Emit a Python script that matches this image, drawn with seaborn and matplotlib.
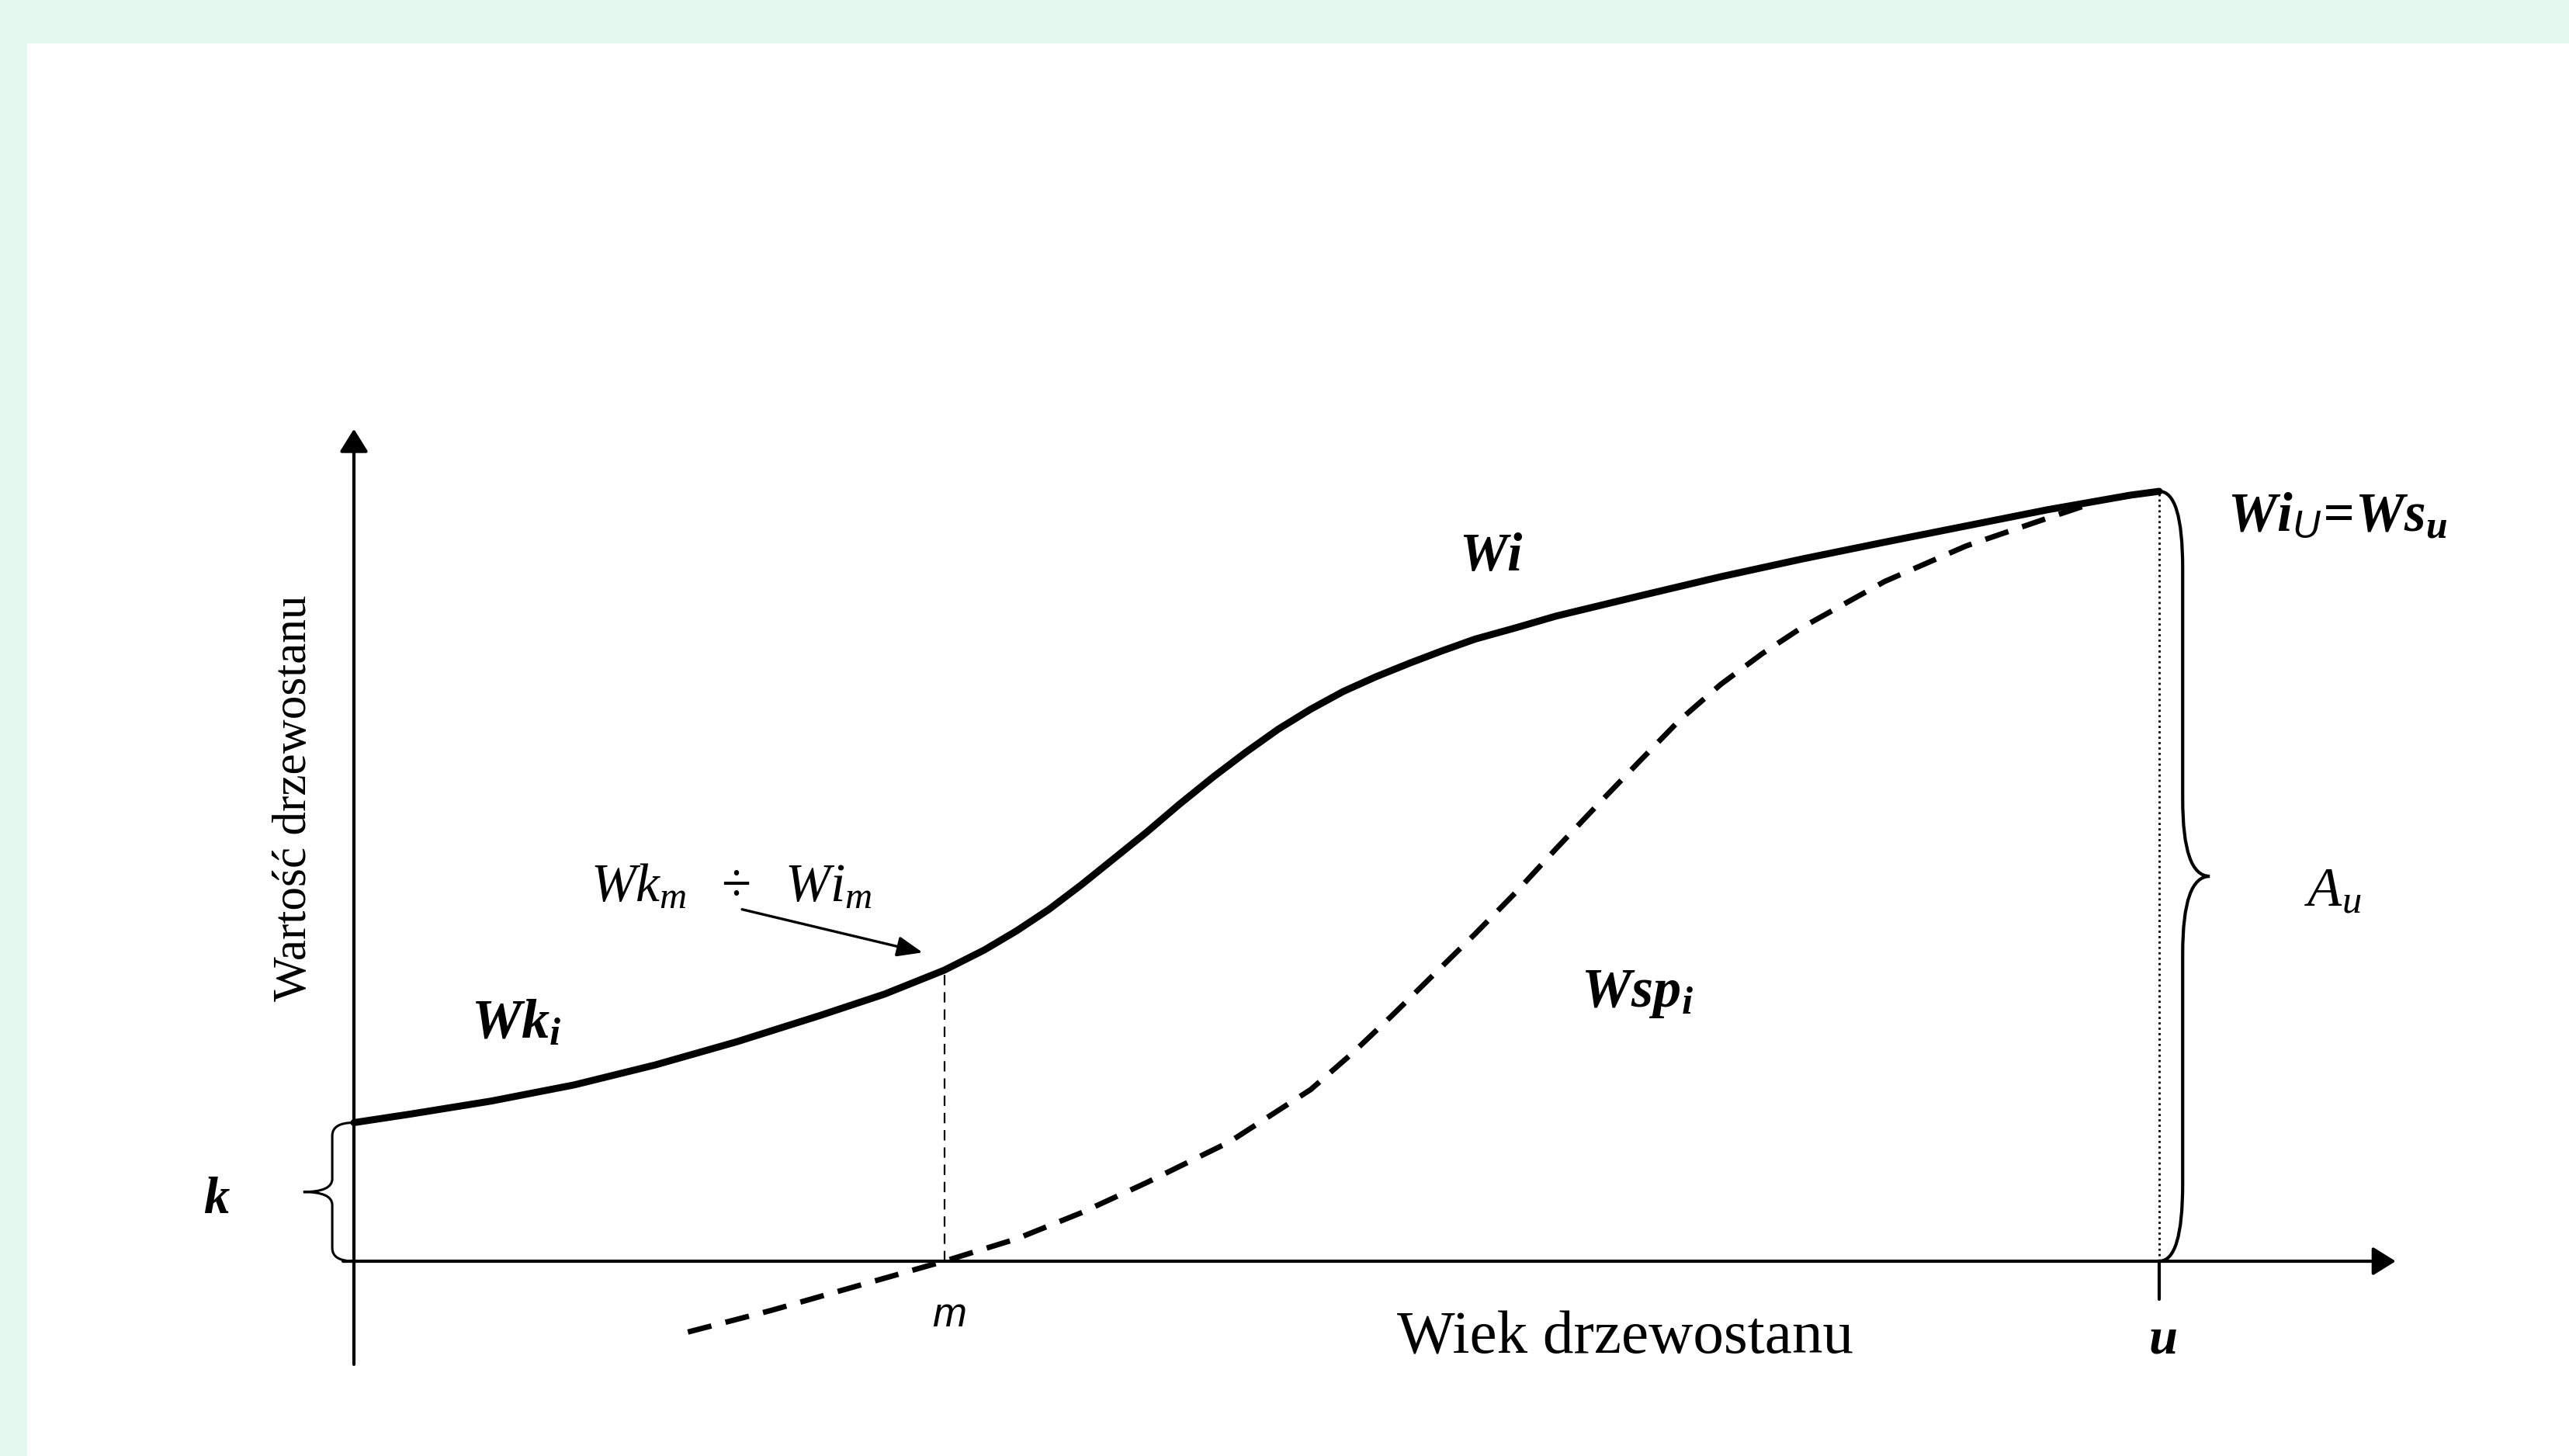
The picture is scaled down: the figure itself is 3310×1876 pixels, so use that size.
import numpy as np
import pandas as pd
import matplotlib
matplotlib.use("Agg")
import matplotlib.pyplot as plt
from matplotlib.path import Path
from matplotlib.patches import PathPatch
import seaborn as sns

# ---------------- data ----------------
# age axis: 0 = origin, 100 = rotation age u ; value axis: 0 = x-axis, 100 = Wi_u
wi_age = [0.0, 3.1, 7.6, 12.2, 16.7, 21.2, 25.8, 29.4, 32.7, 34.9, 36.7, 38.5,
          40.3, 42.1, 43.9, 45.7, 47.6, 49.4, 51.2, 53.0, 54.8, 56.6, 58.5,
          60.3, 62.1, 64.4, 66.6, 68.9, 71.2, 75.7, 80.2, 84.8, 89.3, 93.8,
          98.4, 100.0]
wi_val = [18.0, 19.1, 20.8, 22.9, 25.5, 28.5, 31.9, 34.7, 37.8, 40.4, 42.9, 45.7,
          48.9, 52.3, 55.7, 59.3, 62.9, 66.1, 69.1, 71.7, 74.0, 75.9, 77.7,
          79.3, 80.8, 82.3, 83.8, 85.1, 86.4, 88.9, 91.2, 93.4, 95.5, 97.6,
          99.5, 100.0]

wsp_age = [18.5, 23.1, 27.6, 32.7, 36.7, 40.3, 43.9, 48.5, 53.0, 55.3, 57.5,
           59.8, 62.1, 64.4, 66.6, 68.9, 71.2, 73.4, 75.7, 78.0, 80.2, 84.8,
           89.3, 93.8, 96.1]
wsp_val = [-9.2, -6.4, -3.4, 0.0, 2.9, 6.3, 10.2, 15.5, 22.3, 27.0, 31.9,
           37.2, 42.5, 48.0, 53.6, 59.3, 64.9, 70.2, 74.9, 78.9, 82.3, 88.3,
           92.9, 96.5, 98.3]

m_age = 32.7          # age m
u_age = 100.0         # age u
k_val = 18.0          # initial value k
wi_m = 37.8           # Wi at m
wi_u = 100.0          # Wi at u

x_label = "Wiek drzewostanu"
y_label = "Wartość drzewostanu"

# ---------------- style ----------------
sns.set_theme(style="white")
plt.rcParams["font.family"] = ["Liberation Serif", "DejaVu Serif"]
plt.rcParams["text.color"] = "black"
plt.rcParams["mathtext.fontset"] = "custom"
plt.rcParams["mathtext.rm"] = "Liberation Serif"
plt.rcParams["mathtext.it"] = "Liberation Serif:italic"
plt.rcParams["mathtext.bf"] = "Liberation Serif:italic:bold"
plt.rcParams["mathtext.sf"] = "Liberation Sans:italic"

mint = "#e4f8ef"
fig = plt.figure(figsize=(33.1, 18.76), dpi=100, facecolor=mint)
ax = fig.add_axes([35 / 3310, 0, 1 - 35 / 3310, (1876 - 56) / 1876])
ax.set_facecolor("white")
ax.set_xlim(-18.10, 122.70)
ax.set_ylim(-25.30, 158.17)
for s in ax.spines.values():
    s.set_visible(False)
ax.set_xticks([])
ax.set_yticks([])
ax.grid(False)

df_wi = pd.DataFrame({"age": wi_age, "val": wi_val})
df_wsp = pd.DataFrame({"age": wsp_age, "val": wsp_val})

# axes with arrows
arrow = dict(arrowstyle="-|>,head_length=0.45,head_width=0.28", lw=3.0,
             color="black", mutation_scale=40, shrinkA=0, shrinkB=0)
ax.annotate("", xy=(113.1, 0), xytext=(-0.6, 0), arrowprops=arrow)
ax.annotate("", xy=(0, 108.1), xytext=(0, -13.4), arrowprops=arrow)

# curves
sns.lineplot(data=df_wi, x="age", y="val", ax=ax, color="black", lw=6.5,
             estimator=None, solid_capstyle="round", solid_joinstyle="round")
sns.lineplot(data=df_wsp, x="age", y="val", ax=ax, color="black", lw=5.0,
             estimator=None, linestyle=(0, (4.5, 2.7)))

# guide lines at m and u
ax.plot([m_age, m_age], [0, wi_m], color="black", lw=1.6, linestyle=(0, (6, 4)))
ax.plot([u_age, u_age], [0, wi_u], color="black", lw=2.0, linestyle=(0, (1, 1.5)))
# tick at u
ax.plot([u_age, u_age], [0, -4.9], color="black", lw=3.0)


def brace(x0, y0, y1, xv, xt, r, lw):
    """curly brace from (x0,y0) to (x0,y1), spine at xv, tip at xt"""
    mid = (y0 + y1) / 2
    verts = [(x0, y1), (xv, y1), (xv, y1 - r),
             (xv, mid + r), (xv, mid), (xt, mid),
             (xv, mid), (xv, mid - r),
             (xv, y0 + r), (xv, y0), (x0, y0)]
    codes = [Path.MOVETO, Path.CURVE3, Path.CURVE3,
             Path.LINETO, Path.CURVE3, Path.CURVE3,
             Path.CURVE3, Path.CURVE3,
             Path.LINETO, Path.CURVE3, Path.CURVE3]
    ax.add_patch(PathPatch(Path(verts, codes), fill=False, lw=lw, color="black"))


brace(u_age, 0, wi_u, 101.3, 102.8, 10.0, 3.0)
brace(0, 0, k_val, -1.2, -2.8, 1.7, 2.2)

# texts
ax.text(-3.3, 60.2, y_label, rotation=90, ha="center", va="center", fontsize=44)
ax.text(70.4, -10.1, x_label, ha="center", va="center", fontsize=57)
ax.text(63.0, 91.4, r"$\mathbf{Wi}$", ha="center", va="center", fontsize=50)
ax.text(109.9, 96.6, r"$\mathbf{Wi}_{\mathsf{U}}\!\mathbf{=}\!\mathbf{Ws}_{\mathbf{u}}$",
        ha="center", va="center", fontsize=51)
ax.text(20.9, 48.4, r"$Wk_m\ \ \div\ \ Wi_m$", ha="center", va="center", fontsize=50)
ax.annotate("", xy=(31.5, 40.1), xytext=(21.5, 45.7),
            arrowprops=dict(arrowstyle="-|>,head_length=0.5,head_width=0.2",
                            lw=2.4, color="black", mutation_scale=40,
                            shrinkA=0, shrinkB=0))
ax.text(9.0, 30.8, r"$\mathbf{Wk}_{\mathbf{i}}$", ha="center", va="center", fontsize=52)
ax.text(71.1, 34.7, r"$\mathbf{Wsp}_{\mathbf{i}}$", ha="center", va="center", fontsize=52)
ax.text(109.6, 47.9, r"$A_u$", ha="center", va="center", fontsize=52)
ax.text(-7.6, 7.9, r"$\mathbf{k}$", ha="center", va="center", fontsize=48)
ax.text(33.0, -7.1, "m", ha="center", va="center", fontsize=38,
        family=["Liberation Sans", "DejaVu Sans"], style="italic")
ax.text(100.2, -10.3, r"$\mathbf{u}$", ha="center", va="center", fontsize=48)

fig.savefig("out.png", dpi=100, facecolor=fig.get_facecolor())
